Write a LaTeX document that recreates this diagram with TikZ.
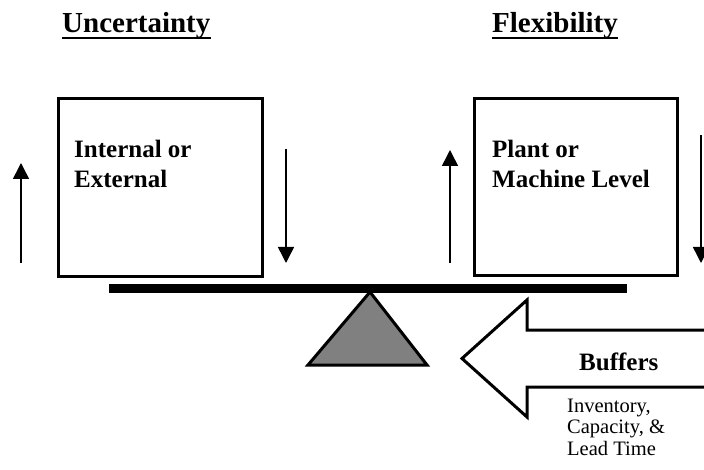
\documentclass[tikz,border=0pt]{standalone}
\usepackage{fontspec}
\setmainfont{Liberation Serif}
\usetikzlibrary{arrows.meta}
\begin{document}
\begin{tikzpicture}[x=1pt,y=-1pt,
  title/.style={font=\fontsize{29}{32}\selectfont\bfseries, inner sep=0pt, anchor=base west},
  boxlabel/.style={font=\fontsize{25}{30}\selectfont\bfseries, inner sep=0pt, anchor=base west, align=left},
  notelabel/.style={font=\fontsize{20.5}{21.5}\selectfont, inner sep=0pt, anchor=base west, align=left},
  weight/.style={draw=black, line width=3pt, fill=white},
  force/.style={line width=1.5pt, -{Triangle[length=16pt,width=16pt]}},
  beam/.style={fill=black},
  pivot/.style={draw=black, line width=3pt, fill=black!50, line join=miter},
  bigarrow/.style={draw=black, line width=3pt, fill=white, line join=miter}]
  \useasboundingbox (0,0) rectangle (704,470);

  % headings with underlines
  \node[title] (unc) at (62,33) {Uncertainty};
  \node[title] (flex) at (492,33) {Flexibility};
  \draw[line width=2pt] ([yshift=-5pt]unc.base west) -- ([yshift=-5pt]unc.base east);
  \draw[line width=2pt] ([yshift=-5pt]flex.base west) -- ([yshift=-5pt]flex.base east);

  % the two weights (multi-line labels are placed by their last baseline)
  \draw[weight] (58,99) rectangle (262,277);
  \draw[weight] (474,99) rectangle (677,276);
  \node[boxlabel] (ie) at (74,188) {Internal or\\External};
  \node[boxlabel] (pm) at (492,188) {Plant or\\Machine Level};

  % up and down forces beside each weight
  \coordinate (luA) at (21,263);  \coordinate (luB) at (21,163);
  \coordinate (ldA) at (286,149); \coordinate (ldB) at (286,263);
  \coordinate (ruA) at (450,263); \coordinate (ruB) at (450,150);
  \coordinate (rdA) at (701,135); \coordinate (rdB) at (701,263);
  \draw[force] (luA) -- (luB);
  \draw[force] (ldA) -- (ldB);
  \draw[force] (ruA) -- (ruB);
  \draw[force] (rdA) -- (rdB);

  % balance beam and pivot
  \fill[beam] (109,284) rectangle (627,293);
  \draw[pivot] (370,292) -- (427,365) -- (308,365) -- cycle;

  % buffers arrow
  \draw[bigarrow] (730,330) -- (527,330) -- (527,300) -- (462,358.5)
     -- (527,417) -- (527,387) -- (730,387);
  \node[boxlabel] (buf) at (579,370) {Buffers};
  \node[notelabel] (inv) at (567,455) {Inventory,\\Capacity, \&\\Lead Time};
\end{tikzpicture}
\end{document}
